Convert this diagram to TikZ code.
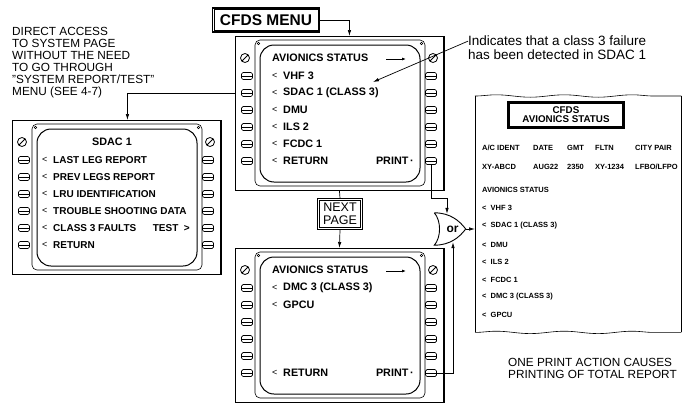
\documentclass[tikz,border=0pt]{standalone}
\usepackage{fontspec}
\setmainfont{Liberation Sans}
\usepackage{tikz}
\usetikzlibrary{positioning, arrows.meta, decorations.pathmorphing}

\tikzset{
  scrtxt/.style={font=\bfseries\fontsize{10.8}{12}\selectfont, inner sep=0pt, anchor=west},
  scrlt/.style={font=\fontsize{9}{10}\selectfont, inner sep=0pt, anchor=west},
  reptxt/.style={font=\bfseries\fontsize{7.5}{8}\selectfont, inner sep=0pt, anchor=west},
  captxt/.style={font=\fontsize{11.8}{12.1}\selectfont, align=left, inner sep=0pt, anchor=north west},
  keybox/.style={draw, rounded corners=1.5pt, minimum width=11pt, minimum height=7pt, inner sep=0pt, line width=.7pt},
  arr/.style={-{Latex[length=6pt,width=3.5pt]}, line width=.7pt},
}

% one control and display unit, frame top-left at (#2,#3)
\newcommand{\cdupanel}[3]{%
  \begin{scope}[shift={(#2,#3)}]
    \node[draw, line width=.9pt, minimum width=208pt, minimum height=154pt,
          inner sep=0pt, anchor=north west] (#1) at (0,0) {};
    \draw[line width=1.8pt] (#1.north east) -- (#1.south east);
    \draw[rounded corners=5pt, line width=.6pt] (20,4) rectangle (190,150);
    \draw[rounded corners=14pt, line width=1pt] (25,9) rectangle (185,146);
    \draw[line width=.5pt] (23.5,7.5) circle (1.3pt) (186.5,7.5) circle (1.3pt);
    \draw[line width=.8pt] (10,22) circle (4.5pt) (198,22) circle (4.5pt);
    \draw[line width=.8pt] (7,25) -- (13,19) (195,25) -- (201,19);
    \foreach \k in {0,...,5}{
      \node[keybox] (#1-l\k) at (12,{40+17*\k}) {};
      \draw[line width=.6pt] ([xshift=1pt]#1-l\k.west) -- ([xshift=-1pt]#1-l\k.east);
      \node[keybox] (#1-r\k) at (196,{40+17*\k}) {};
      \draw[line width=.6pt] ([xshift=1pt]#1-r\k.west) -- ([xshift=-1pt]#1-r\k.east);
    }
  \end{scope}}

\begin{document}
\begin{tikzpicture}[x=1pt, y=-1pt]
  \useasboundingbox (0,0) rectangle (686,402);

  % the three CDU pages
  \cdupanel{cdu0}{12}{120}
  \cdupanel{cdu1}{235}{36}
  \cdupanel{cdu2}{235}{248}

  % system page
  \node[scrtxt, anchor=center] (sdactitle) at (112,142) {SDAC 1};
  \foreach \r/\t in {0/LAST LEG REPORT, 1/PREV LEGS REPORT, 2/LRU IDENTIFICATION,
                     3/TROUBLE SHOOTING DATA, 4/CLASS 3 FAULTS, 5/RETURN}{
    \node[scrlt] at (42,{160+17*\r}) {<};
    \node[scrtxt, font=\bfseries\fontsize{10}{12}\selectfont] (s\r) at (53,{160+17*\r}) {\t};
  }
  \node[scrtxt, font=\bfseries\fontsize{10}{12}\selectfont, anchor=east] (testkey) at (190,228) {TEST\ \ >};

  % avionics status, page 1
  \node[scrtxt] (stat1) at (272,58) {AVIONICS STATUS};
  \draw[-{Latex[length=4pt,width=3pt]}, line width=1pt] (386,59) -- (406,59);
  \foreach \r/\t in {0/VHF 3, 1/SDAC 1 (CLASS 3), 2/DMU, 3/ILS 2, 4/FCDC 1, 5/RETURN}{
    \node[scrlt] at (272,{76+17*\r}) {<};
    \node[scrtxt] (p\r) at (283,{76+17*\r}) {\t};
  }
  \node[scrtxt, anchor=east] (print1) at (414,161) {PRINT\,·};

  % avionics status, page 2
  \node[scrtxt] (stat2) at (272,270) {AVIONICS STATUS};
  \draw[-{Latex[length=4pt,width=3pt]}, line width=1pt] (386,271) -- (406,271);
  \node[scrlt] at (272,288) {<};
  \node[scrtxt] (q0) at (283,288) {DMC 3 (CLASS 3)};
  \node[scrlt] at (272,305) {<};
  \node[scrtxt] (q1) at (283,305) {GPCU};
  \node[scrlt] at (272,373) {<};
  \node[scrtxt] (q5) at (283,373) {RETURN};
  \node[scrtxt, anchor=east] (print2) at (414,373) {PRINT\,·};

  % boxes and captions
  \node[draw, line width=1.2pt, font=\bfseries\fontsize{15.5}{16}\selectfont,
        minimum width=107pt, minimum height=24pt, inner sep=0pt] (menu) at (266,20) {CFDS MENU};
  \draw[line width=.5pt] ([shift={(2pt,-2pt)}]menu.north west) rectangle ([shift={(-2pt,2pt)}]menu.south east);
  \node[draw, line width=.7pt, align=center, font=\fontsize{12.5}{13}\selectfont,
        minimum width=45pt, minimum height=31pt, inner sep=0pt] (nextpg) at (340,214) {NEXT\\PAGE};
  \draw[line width=.5pt] ([shift={(2.5pt,-2.5pt)}]nextpg.north west) rectangle ([shift={(-2.5pt,2.5pt)}]nextpg.south east);
  \node[captxt] (direct) at (12,27) {DIRECT ACCESS\\TO SYSTEM PAGE\\WITHOUT THE NEED\\TO GO THROUGH\\"SYSTEM REPORT/TEST"\\MENU (SEE 4-7)};
  \node[captxt, font=\fontsize{13.5}{14}\selectfont] (note) at (468,36) {Indicates that a class 3 failure\\has been detected in SDAC 1};
  \node[captxt] (onepr) at (508,358) {ONE PRINT ACTION CAUSES\\PRINTING OF TOTAL REPORT};
  \coordinate (failtip) at (373,82);

  % printed report
  \node[minimum width=206pt, minimum height=236pt, inner sep=0pt, anchor=north west] (report) at (475,96) {};
  \draw[line width=.6pt] (report.north west) -- (report.south west);
  \draw[line width=.9pt] (report.north east) -- (report.south east);
  \draw[line width=.6pt, decorate, decoration={snake, amplitude=1.2pt, segment length=68pt}]
    (report.north west) -- (report.north east);
  \draw[line width=.6pt, decorate, decoration={snake, amplitude=1.2pt, segment length=68pt}]
    (report.south west) -- (report.south east);
  \node[draw, line width=1.1pt, align=center, font=\bfseries\fontsize{9.8}{9}\selectfont,
        minimum width=116pt, minimum height=26pt, inner sep=1pt] (reptitle) at (566,115) {CFDS\\AVIONICS STATUS};
  \draw[line width=.4pt] ([shift={(2pt,-2pt)}]reptitle.north west) rectangle ([shift={(-2pt,2pt)}]reptitle.south east);
  \node[reptxt] (h1) at (482,148) {A/C IDENT};
  \node[reptxt] (h2) at (533,148) {DATE};
  \node[reptxt] (h3) at (567,148) {GMT};
  \node[reptxt] (h4) at (595,148) {FLTN};
  \node[reptxt] (h5) at (635,148) {CITY PAIR};
  \node[reptxt] (v1) at (482,167) {XY-ABCD};
  \node[reptxt] (v2) at (533,167) {AUG22};
  \node[reptxt] (v3) at (567,167) {2350};
  \node[reptxt] (v4) at (595,167) {XY-1234};
  \node[reptxt] (v5) at (635,167) {LFBO/LFPO};
  \node[reptxt] (rstat) at (482,190) {AVIONICS STATUS};
  \foreach \y/\t in {208/VHF 3, 226/SDAC 1 (CLASS 3), 245/DMU, 262/ILS 2,
                     280/FCDC 1, 297/DMC 3 (CLASS 3), 315/GPCU}{
    \node[reptxt] at (482,\y) {<~~\t};
  }

  % or gate
  \node[font=\bfseries\fontsize{12}{12}\selectfont, minimum width=31pt, minimum height=32pt,
        inner sep=0pt] (orgate) at (450,229) {\hspace*{5pt}or};
  \draw[line width=.9pt] (orgate.north west) .. controls +(16pt,0pt) and +(-6pt,8pt) .. (orgate.east)
    .. controls +(-6pt,-8pt) and +(16pt,0pt) .. (orgate.south west)
    .. controls +(7pt,8pt) and +(7pt,-8pt) .. (orgate.north west);

  % connectors
  \draw[arr] (menu.east) -| ([xshift=10pt]cdu1.north);
  \draw[arr] (cdu1.west |- cdu1-l1) -| ([xshift=11pt]cdu0.north);
  \draw[line width=.7pt] (cdu1.south) -- (nextpg.north);
  \draw[arr] (nextpg.south) -- (cdu2.north);
  \draw[arr] ([yshift=7pt]note.west) -- (failtip);
  \draw[arr] (cdu1-r5.south) -- ++(0,33.5) -| ([xshift=-3pt,yshift=-1pt]orgate.north);
  \draw[arr] (cdu2-r5.east) -| ([xshift=3pt,yshift=3pt]orgate.south);
  \draw[arr] (orgate.east) -- (report.west |- orgate.east);
\end{tikzpicture}
\end{document}
